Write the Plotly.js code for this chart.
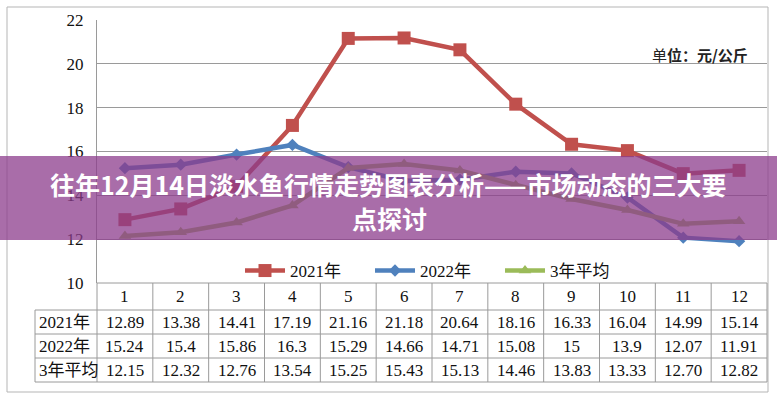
<!DOCTYPE html>
<html>
<head>
<meta charset="utf-8">
<script src="https://cdn.plot.ly/plotly-3.0.1.min.js"></script>
<style>html,body{margin:0;padding:0;background:#fff;}#chart{width:777px;height:400px;}</style>
</head>
<body>
<div id="chart"></div>
<script>
// ---- data ----
const months = ['1','2','3','4','5','6','7','8','9','10','11','12'];
const seriesNames = ['2021年','2022年','3年平均'];
const y2021 = [12.89,13.38,14.41,17.19,21.16,21.18,20.64,18.16,16.33,16.04,14.99,15.14];
const y2022 = [15.24,15.4,15.86,16.3,15.29,14.66,14.71,15.08,15,13.9,12.07,11.91];
const yAvg  = [12.15,12.32,12.76,13.54,15.25,15.43,15.13,14.46,13.83,13.33,12.70,12.82];
const yTicks = [10,12,14,16,18,20,22];
const titleLine1 = '往年12月14日淡水鱼行情走势图表分析——市场动态的三大要';
const titleLine2 = '点探讨';
const unitText = '单<b>位：元/公斤</b>';

// ---- layout helpers (pixel -> paper) ----
const L = 97, R = 767, T = 20, B = 283;
const px = X => (X - L) / (R - L);
const py = Y => (B - Y) / (B - T);

const colors = ['#C0504D', '#4F81BD', '#9BBB59'];
const xs = months.map((m, i) => i + 1);
const serif = '"Liberation Serif", "Times New Roman", "Noto Sans CJK SC", serif';
const sans = '"Noto Sans CJK SC", "Noto Sans", sans-serif';

const traces = [
  {x: xs, y: y2021, name: seriesNames[0], mode: 'lines+markers', line: {color: colors[0], width: 4.5},
   marker: {symbol: 'square', size: 13, color: colors[0]}},
  {x: xs, y: y2022, name: seriesNames[1], mode: 'lines+markers', line: {color: colors[1], width: 4.5},
   marker: {symbol: 'diamond', size: 9.5, color: colors[1]}},
  {x: xs, y: yAvg, name: seriesNames[2], mode: 'lines+markers', line: {color: colors[2], width: 4.5},
   marker: {symbol: 'triangle-up', size: 11, color: colors[2]}}
];

// ---- table (shapes + annotations) ----
const gridCol = '#9a9a9a';
const shapes = [];
const annotations = [];
const line = (x0, y0, x1, y1, c) => shapes.push({type: 'line', xref: 'paper', yref: 'paper',
  x0: px(x0), y0: py(y0), x1: px(x1), y1: py(y1), line: {color: c || gridCol, width: 1}});

// outer border
shapes.push({type: 'rect', xref: 'paper', yref: 'paper', x0: px(7), x1: px(768), y0: py(7), y1: py(392),
  line: {color: '#b5b5b5', width: 1}, layer: 'below'});

const rowY = [283, 310, 334, 358, 382];
const tableLeft = 35;
line(L, 283, R, 283);
for (let k = 1; k < rowY.length; k++) line(tableLeft, rowY[k], R, rowY[k]);
line(tableLeft, 310, tableLeft, 382);
line(L, 283, L, 382);
for (let k = 1; k <= 12; k++) {
  const X = L + k * (R - L) / 12;
  line(X, 283, X, 382);
}

const cellFont = {family: serif, size: 17, color: '#111'};
const rowCenters = [296.5, 322, 346, 370];
months.forEach((m, i) => annotations.push({xref: 'x', yref: 'paper', x: i + 1, y: py(rowCenters[0]),
  text: m, showarrow: false, font: cellFont, xanchor: 'center', yanchor: 'middle'}));
const rows = [
  y2021.map(v => v.toFixed(2)),
  y2022.map(v => String(v)),
  yAvg.map(v => v.toFixed(2))
];
rows.forEach((r, ri) => {
  annotations.push({xref: 'paper', yref: 'paper', x: px(37), y: py(rowCenters[ri + 1]), text: seriesNames[ri],
    showarrow: false, font: cellFont, xanchor: 'left', yanchor: 'middle'});
  r.forEach((t, i) => annotations.push({xref: 'x', yref: 'paper', x: i + 1, y: py(rowCenters[ri + 1]),
    text: t, showarrow: false, font: cellFont, xanchor: 'center', yanchor: 'middle'}));
});

// unit label
annotations.push({xref: 'paper', yref: 'paper', x: px(750), y: py(54), text: unitText, showarrow: false,
  font: {family: sans, size: 15, color: '#222'}, xanchor: 'right', yanchor: 'middle'});

// overlay banner
shapes.push({type: 'rect', xref: 'paper', yref: 'paper', x0: px(0), x1: px(777), y0: py(156), y1: py(240),
  fillcolor: 'rgba(140,60,140,0.75)', line: {width: 0}, layer: 'above'});
annotations.push({xref: 'paper', yref: 'paper', x: px(388.5), y: py(184), text: '<b>' + titleLine1 + '</b>',
  showarrow: false, font: {family: sans, size: 25, color: '#fff'}, xanchor: 'center', yanchor: 'middle'});
annotations.push({xref: 'paper', yref: 'paper', x: px(389), y: py(218), text: '<b>' + titleLine2 + '</b>',
  showarrow: false, font: {family: sans, size: 25, color: '#fff'}, xanchor: 'center', yanchor: 'middle'});

const layout = {
  width: 777, height: 400,
  margin: {l: L, r: 777 - R, t: T, b: 400 - B, pad: 0},
  paper_bgcolor: '#fff', plot_bgcolor: '#fff',
  showlegend: true,
  legend: {orientation: 'h', x: px(240), xanchor: 'left', y: py(271), yanchor: 'middle',
    font: {family: serif, size: 17, color: '#111'}, bgcolor: 'rgba(0,0,0,0)', itemwidth: 40,
    entrywidth: 75, entrywidthmode: 'pixels', traceorder: 'normal'},
  xaxis: {range: [0.5, 12.5], showticklabels: false, showgrid: false, zeroline: false, showline: false, ticks: '', fixedrange: true},
  yaxis: {range: [10, 22], tickvals: yTicks, ticktext: yTicks.map(String), showgrid: true, gridcolor: gridCol, gridwidth: 1,
    zeroline: false, showline: true, linecolor: gridCol, linewidth: 1, ticks: 'outside', ticklen: 9, tickcolor: 'rgba(0,0,0,0)',
    tickfont: {family: serif, size: 17, color: '#111'}, fixedrange: true},
  shapes: shapes,
  annotations: annotations
};

Plotly.newPlot('chart', traces, layout, {displayModeBar: false, staticPlot: true});
</script>
</body>
</html>
